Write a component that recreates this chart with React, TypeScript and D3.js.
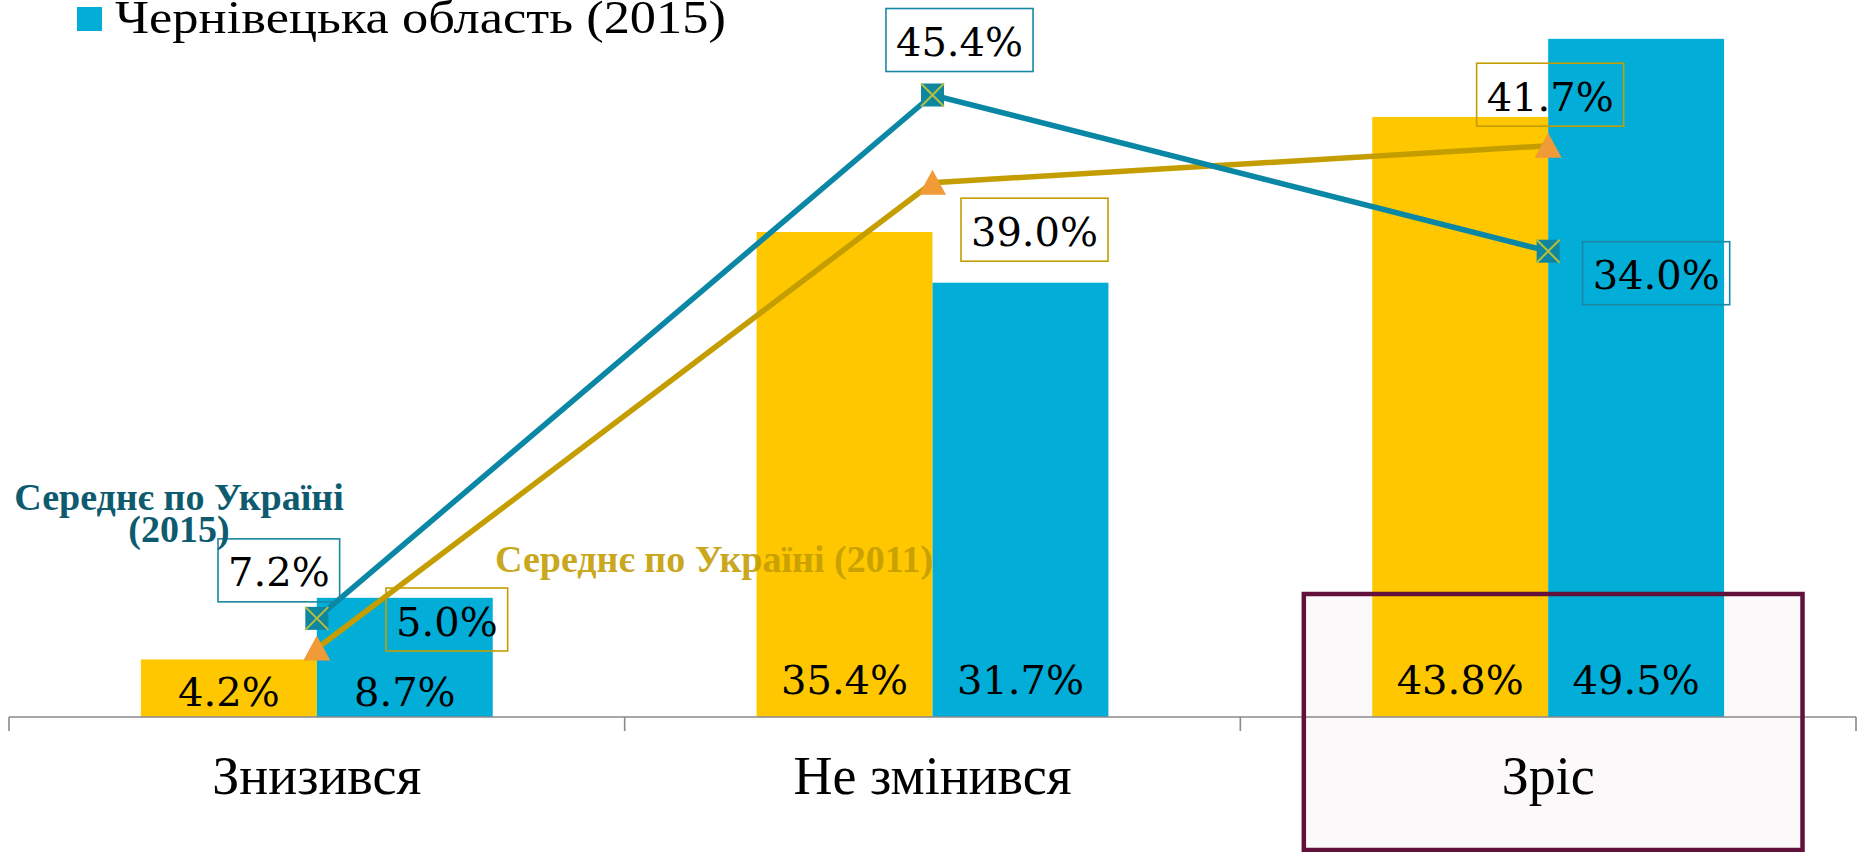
import React, { useEffect, useMemo } from "react";
import * as d3 from "d3";

// ---------- data ----------
const categories = ["Знизився", "Не змінився", "Зріс"];
const seriesKeys = ["2011", "2015"];
const chernivtsi2011 = [4.2, 35.4, 43.8];
const chernivtsi2015 = [8.7, 31.7, 49.5];
const ukraine2015 = [7.2, 45.4, 34.0];
const ukraine2011 = [5.0, 39.0, 41.7];
const legendLabel = "Чернівецька область (2015)";
const ukraine2015Label = ["Середнє по Україні", "(2015)"];
const ukraine2011Label = "Середнє по Україні (2011)";
const highlightedCategory = "Зріс";

// ---------- layout / style ----------
const W = 1860;
const H = 852;
const AXIS_Y = 717;
const LEFT = 9;
const RIGHT = 1856;
const YELLOW = "#FEC700";
const BLUE = "#02ADD8";
const LINE_BLUE = "#0A87A5";
const LINE_GOLD = "#C49E00";
const NUM_FONT = "DejaVu Serif";
const TXT_FONT = "Liberation Serif";
const NUM_SIZE = 40;
// label box offsets (from the point) for each line series
const offsetsU2015 = [[-38, -48], [27, -55], [108, 22]];
const offsetsU2011 = [[130, -29], [102, 47], [2, -51]];

const fmt = (v: number) => v.toFixed(1) + "%";

function measure(text: string, font: string): number {
  const c = document.createElement("canvas");
  const ctx = c.getContext("2d")!;
  ctx.font = font;
  return ctx.measureText(text).width;
}

export default function App() {
  useEffect(() => {
    document.body.style.margin = "0";
  }, []);

  const x = useMemo(
    () => d3.scaleBand<string>().domain(categories).range([LEFT, RIGHT]).paddingInner(0).paddingOuter(0),
    []
  );
  const xs = useMemo(
    () => d3.scaleBand<string>().domain(seriesKeys).range([0, x.bandwidth()]).paddingInner(0).paddingOuter(0.75),
    [x]
  );
  const y = useMemo(() => d3.scaleLinear().domain([0, 50]).range([AXIS_Y, 32]), []);

  const cx = (c: string) => (x(c) as number) + x.bandwidth() / 2;
  const line = d3
    .line<number>()
    .x((_, i) => cx(categories[i]))
    .y((d) => y(d));

  const bars = [
    { key: "2011", values: chernivtsi2011, color: YELLOW },
    { key: "2015", values: chernivtsi2015, color: BLUE },
  ];

  const hb = x(highlightedCategory) as number;
  const hbW = x.bandwidth() * 0.81;
  const hbX = hb + x.bandwidth() / 2 - hbW / 2 + 5;
  const hbY = 594;
  const hbH = 850 - hbY;

  const boxLabel = (v: number, px: number, py: number, off: number[], color: string, key: string) => {
    const t = fmt(v);
    const tw = measure(t, `${NUM_SIZE}px "${NUM_FONT}"`);
    const bw = tw + 20;
    const bh = 63;
    const bcx = px + off[0];
    const bcy = py + off[1];
    return (
      <g key={key}>
        <rect x={bcx - bw / 2} y={bcy - bh / 2} width={bw} height={bh} fill="none" stroke={color} strokeWidth={1.6} />
        <text x={bcx} y={bcy + 16} textAnchor="middle" fontFamily={NUM_FONT} fontSize={NUM_SIZE} fill="#000">
          {t}
        </text>
      </g>
    );
  };

  const ticks = [...categories.map((c) => x(c) as number), RIGHT];

  return (
    <svg width={W} height={H} style={{ display: "block" }} xmlns="http://www.w3.org/2000/svg">
      <rect x={0} y={0} width={W} height={H} fill="#fff" />
      {/* highlight box fill */}
      <rect x={hbX} y={hbY} width={hbW} height={hbH} fill="#FCF9FA" />

      {/* legend */}
      <rect x={77} y={7} width={25} height={24} fill={BLUE} />
      <text
        x={115}
        y={33}
        fontFamily={TXT_FONT}
        fontSize={47}
        fill="#000"
        textLength={611}
        lengthAdjust="spacingAndGlyphs"
      >
        {legendLabel}
      </text>

      {/* bars */}
      {bars.map((s) =>
        s.values.map((v, i) => (
          <rect
            key={s.key + i}
            x={(x(categories[i]) as number) + (xs(s.key) as number)}
            y={y(v)}
            width={xs.bandwidth()}
            height={y(0) - y(v)}
            fill={s.color}
          />
        ))
      )}
      {bars.map((s) =>
        s.values.map((v, i) => (
          <text
            key={"t" + s.key + i}
            x={(x(categories[i]) as number) + (xs(s.key) as number) + xs.bandwidth() / 2}
            y={y(0) - (v < 10 ? 11 : 23)}
            textAnchor="middle"
            fontFamily={NUM_FONT}
            fontSize={NUM_SIZE}
            fill="#000"
          >
            {fmt(v)}
          </text>
        ))
      )}

      {/* axis */}
      <line x1={LEFT} x2={RIGHT} y1={y(0)} y2={y(0)} stroke="#8A8A8A" strokeWidth={1.6} />
      {ticks.map((t, i) => (
        <line key={"tk" + i} x1={t} x2={t} y1={y(0)} y2={y(0) + 14} stroke="#8A8A8A" strokeWidth={1.6} />
      ))}

      {/* lines */}
      <path d={line(ukraine2011) || ""} fill="none" stroke={LINE_GOLD} strokeWidth={5.5} />
      <path d={line(ukraine2015) || ""} fill="none" stroke={LINE_BLUE} strokeWidth={5.5} />

      {/* markers */}
      {ukraine2011.map((v, i) => {
        const px = cx(categories[i]);
        const py = y(v);
        const p = d3.path();
        p.moveTo(px, py - 13);
        p.lineTo(px + 13.5, py + 12);
        p.lineTo(px - 13.5, py + 12);
        p.closePath();
        return <path key={"tri" + i} d={p.toString()} fill="#F09A38" />;
      })}
      {ukraine2015.map((v, i) => {
        const px = cx(categories[i]);
        const py = y(v);
        const s = 11.5;
        return (
          <g key={"sq" + i}>
            <rect x={px - s} y={py - s} width={2 * s} height={2 * s} fill="#0E86A0" />
            <line x1={px - s} y1={py - s} x2={px + s} y2={py + s} stroke="#B5BF3C" strokeWidth={2} />
            <line x1={px - s} y1={py + s} x2={px + s} y2={py - s} stroke="#B5BF3C" strokeWidth={2} />
          </g>
        );
      })}

      {/* line labels */}
      {ukraine2015.map((v, i) =>
        boxLabel(v, cx(categories[i]), y(v), offsetsU2015[i], "#1787A3", "b15" + i)
      )}
      {ukraine2011.map((v, i) =>
        boxLabel(v, cx(categories[i]), y(v), offsetsU2011[i], LINE_GOLD, "b11" + i)
      )}

      {/* series annotations */}
      <text fontFamily={TXT_FONT} fontWeight="bold" fontSize={38} fill="#0E5B70" textAnchor="middle">
        <tspan x={179} y={510}>{ukraine2015Label[0]}</tspan>
        <tspan x={179} y={542}>{ukraine2015Label[1]}</tspan>
      </text>
      <text x={495} y={572} fontFamily={TXT_FONT} fontWeight="bold" fontSize={38} fill="#C29C00" fillOpacity={0.9}>
        {ukraine2011Label}
      </text>

      {/* highlight border */}
      <rect x={hbX} y={hbY} width={hbW} height={hbH} fill="none" stroke="#62123A" strokeWidth={4.5} />

      {/* category labels */}
      {categories.map((c) => (
        <text key={"c" + c} x={cx(c)} y={794} textAnchor="middle" fontFamily={TXT_FONT} fontSize={54} fill="#000">
          {c}
        </text>
      ))}
    </svg>
  );
}
